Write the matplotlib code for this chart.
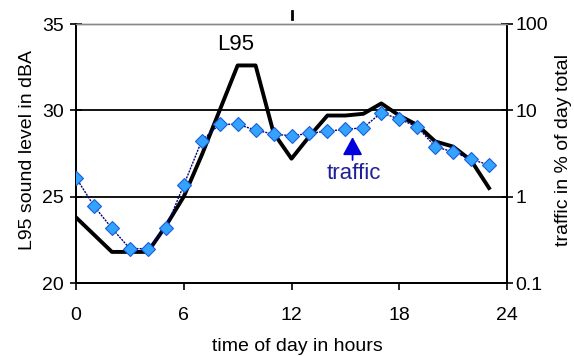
import matplotlib
matplotlib.use("Agg")
import matplotlib.pyplot as plt
import numpy as np

plt.rcParams['font.family'] = ['Liberation Sans', 'DejaVu Sans']

hours = list(range(24))
l95 = [23.8, 22.8, 21.8, 21.8, 21.8, 23.3, 25.0, 27.4, 30.0, 32.6, 32.6, 28.7,
       27.2, 28.5, 29.7, 29.7, 29.8, 30.4, 29.7, 29.15, 28.2, 27.9, 27.1, 25.5]
traffic = [1.66, 0.78, 0.43, 0.25, 0.25, 0.43, 1.36, 4.45, 6.9, 6.9, 5.9, 5.3,
           5.08, 5.4, 5.76, 6.0, 6.3, 9.4, 7.9, 6.45, 3.8, 3.3, 2.71, 2.33]
xticks = [0, 6, 12, 18, 24]
yticks_left = [20, 25, 30, 35]
yticks_right = [0.1, 1, 10, 100]
yticklabels_right = ["0.1", "1", "10", "100"]

W, H = 574, 356
fig = plt.figure(figsize=(W / 100, H / 100), dpi=100)
ax = fig.add_axes([76 / W, 1 - 283 / H, (507 - 76) / W, (283 - 24) / H])
ax2 = ax.twinx()

ax.set_xlim(0, 24)
ax.set_ylim(20, 35)
ax2.set_yscale('log')
ax2.set_ylim(0.1, 100)

for yv in [25, 30]:
    ax.axhline(yv, color='black', lw=1.3, zorder=1)

ax.plot(hours, l95, color='black', lw=2.8, zorder=3)
ax2.plot(hours, traffic, color='#000080', lw=1.0, ls=(0, (1.5, 0.8)),
         marker='D', markersize=7, markerfacecolor='#33a3ff',
         markeredgecolor='#1a5fd6', markeredgewidth=0.8, zorder=4)

ax.set_xticks(xticks)
ax.set_yticks(yticks_left)
ax2.set_yticks(yticks_right)
ax2.set_yticklabels(yticklabels_right)
ax2.minorticks_off()

ax.tick_params(axis='y', labelsize=14, direction='inout', length=8, width=1.2, pad=5)
ax2.tick_params(axis='y', labelsize=14, direction='inout', length=8, width=1.2, pad=2)
ax.tick_params(axis='x', labelsize=14, direction='out', length=5, width=1.2, pad=12)

ax.spines['top'].set_color('#888888')
ax2.spines['top'].set_color('#888888')
ax.spines['top'].set_linewidth(1.0)
ax2.spines['top'].set_linewidth(1.0)
for s in ['left', 'right', 'bottom']:
    ax.spines[s].set_linewidth(1.3)
    ax2.spines[s].set_linewidth(1.3)

fig.text(297 / W, 1 - 351 / H, "time of day in hours", fontsize=14,
         ha='center', va='baseline')
fig.text(28 / W, 1 - 150 / H, "L95 sound level in dBA", fontsize=14,
         rotation=90, ha='center', va='center')
fig.text(564 / W, 1 - 150 / H, "traffic in % of day total", fontsize=14,
         rotation=90, ha='center', va='center')

ax.text(8.9, 33.2, "L95", fontsize=16, ha='center', va='bottom', color='black')
ax2.text(15.5, 2.45, "traffic", fontsize=16, ha='center', va='top', color='#1f1f99')
ax2.annotate("", xy=(15.4, 4.9), xytext=(15.4, 2.66),
             arrowprops=dict(arrowstyle='-|>,head_width=0.6,head_length=1.1',
                             color='#0000dd', lw=1.3, shrinkA=0, shrinkB=0))

# small tick mark above top at 12
ax.plot([12, 12], [35.3, 35.75], color='black', lw=2, clip_on=False)

fig.savefig("out.png", dpi=100)
